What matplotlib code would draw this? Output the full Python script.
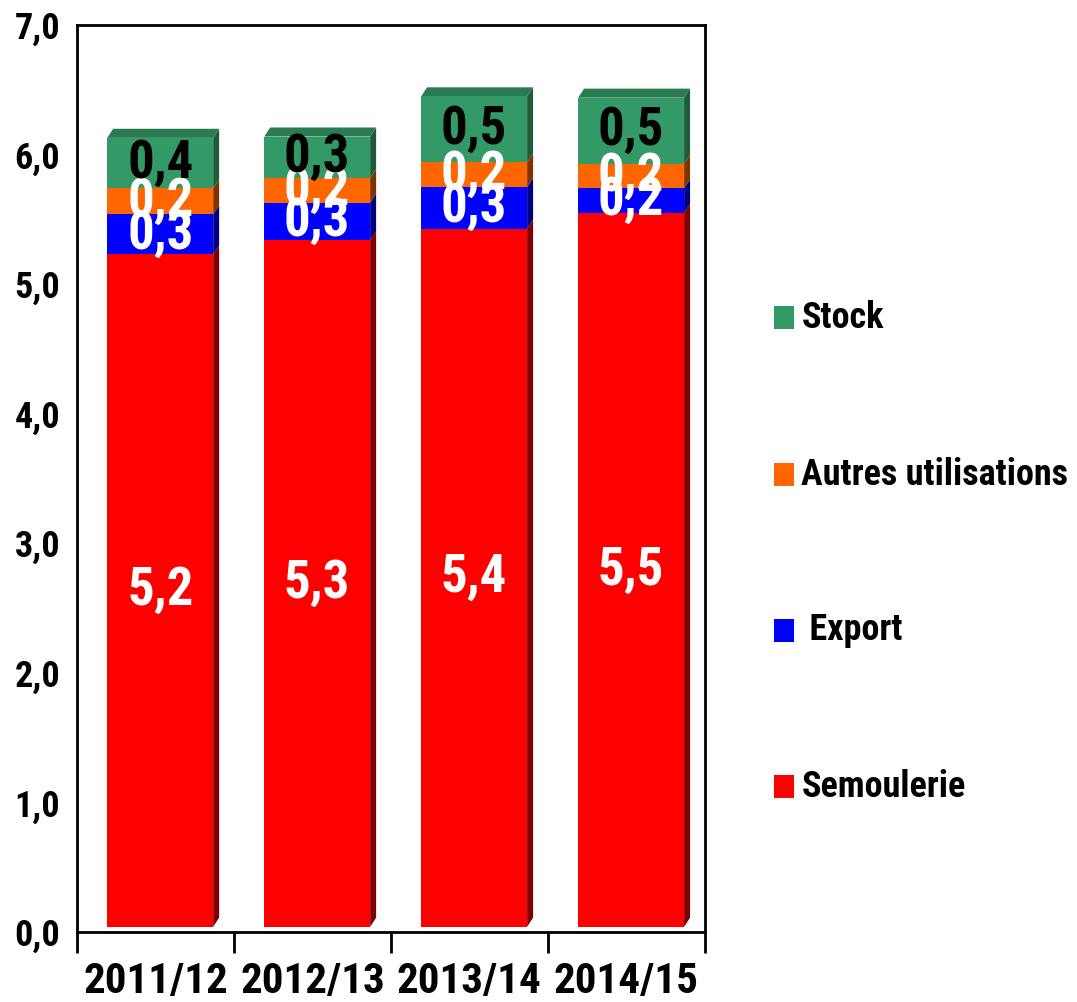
import matplotlib
matplotlib.use("Agg")
import matplotlib.pyplot as plt
from matplotlib.patches import Polygon, Rectangle

# --- data (millions de tonnes) ---
campagnes = ["2011/12", "2012/13", "2013/14", "2014/15"]
semoulerie = [5.19, 5.30, 5.39, 5.51]
export = [0.31, 0.29, 0.32, 0.19]
autres = [0.20, 0.19, 0.19, 0.19]
stock = [0.39, 0.32, 0.51, 0.51]

legend_labels = ["Semoulerie", " Export", "Autres utilisations", "Stock"]
face_colors = ["#FF0000", "#0000FF", "#FF6600", "#339966"]
side_colors = ["#800000", "#000080", "#803300", "#1E5A3C"]
top_color = "#2A7A52"
label_colors = ["white", "white", "white", "black"]

plt.rcParams["font.family"] = ["Roboto Condensed", "Liberation Sans", "DejaVu Sans"]
plt.rcParams["font.weight"] = "bold"

fig = plt.figure(figsize=(10.77, 10.02), dpi=100)
ax = fig.add_axes([0.0715, 0.0699, 0.583, 0.905])

series = [semoulerie, export, autres, stock]
width = 0.675
dx, dy = 0.038, 0.07      # 3d depth
floor = 0.04
shift = 0.03

for i in range(len(campagnes)):
    x0 = i - width / 2 + shift
    x1 = x0 + width
    bottom = floor
    for k, vals in enumerate(series):
        v = vals[i]
        top = bottom + v
        ax.add_patch(Rectangle((x0, bottom), width, v, facecolor=face_colors[k],
                               edgecolor="none", zorder=3))
        ax.add_patch(Polygon([(x1, bottom), (x1 + dx, bottom + dy), (x1 + dx, top + dy), (x1, top)],
                             closed=True, facecolor=side_colors[k], edgecolor="none", zorder=2))
        ax.text((x0 + x1) / 2, bottom + v / 2, f"{v:.1f}".replace(".", ","),
                ha="center", va="center", fontsize=38, fontweight="bold",
                color=label_colors[k], zorder=5)
        bottom = top
    ax.add_patch(Polygon([(x0, bottom), (x0 + dx, bottom + dy), (x1 + dx, bottom + dy), (x1, bottom)],
                         closed=True, facecolor=top_color, edgecolor="none", zorder=2))

ax.set_xlim(-0.5, len(campagnes) - 0.5)
ax.set_ylim(0, 7)

ax.set_yticks([0, 1, 2, 3, 4, 5, 6, 7])
ax.set_yticklabels([f"{t:.1f}".replace(".", ",") for t in range(8)], fontsize=26, fontweight="bold")
ax.tick_params(axis="y", length=0, pad=12)

ax.set_xticks(range(len(campagnes)))
ax.set_xticklabels(campagnes, fontsize=31, fontweight="bold")
ax.set_xticks([i - 0.5 for i in range(len(campagnes) + 1)], minor=True)
ax.tick_params(axis="x", which="major", length=0, pad=21)
ax.tick_params(axis="x", which="minor", length=15, width=2, direction="out")

for s in ax.spines.values():
    s.set_linewidth(2)
    s.set_color("black")

# legend drawn by hand, top to bottom
leg_y = [0.683, 0.526, 0.371, 0.215]
for k, y in zip([3, 2, 1, 0], leg_y):
    fig.patches.append(Rectangle((0.7187, y - 0.0115), 0.0186, 0.023, transform=fig.transFigure,
                                 facecolor=face_colors[k], edgecolor="none"))
    fig.text(0.744, y, legend_labels[k], fontsize=26, fontweight="bold", va="center", ha="left")

fig.savefig("out.png", dpi=100)
